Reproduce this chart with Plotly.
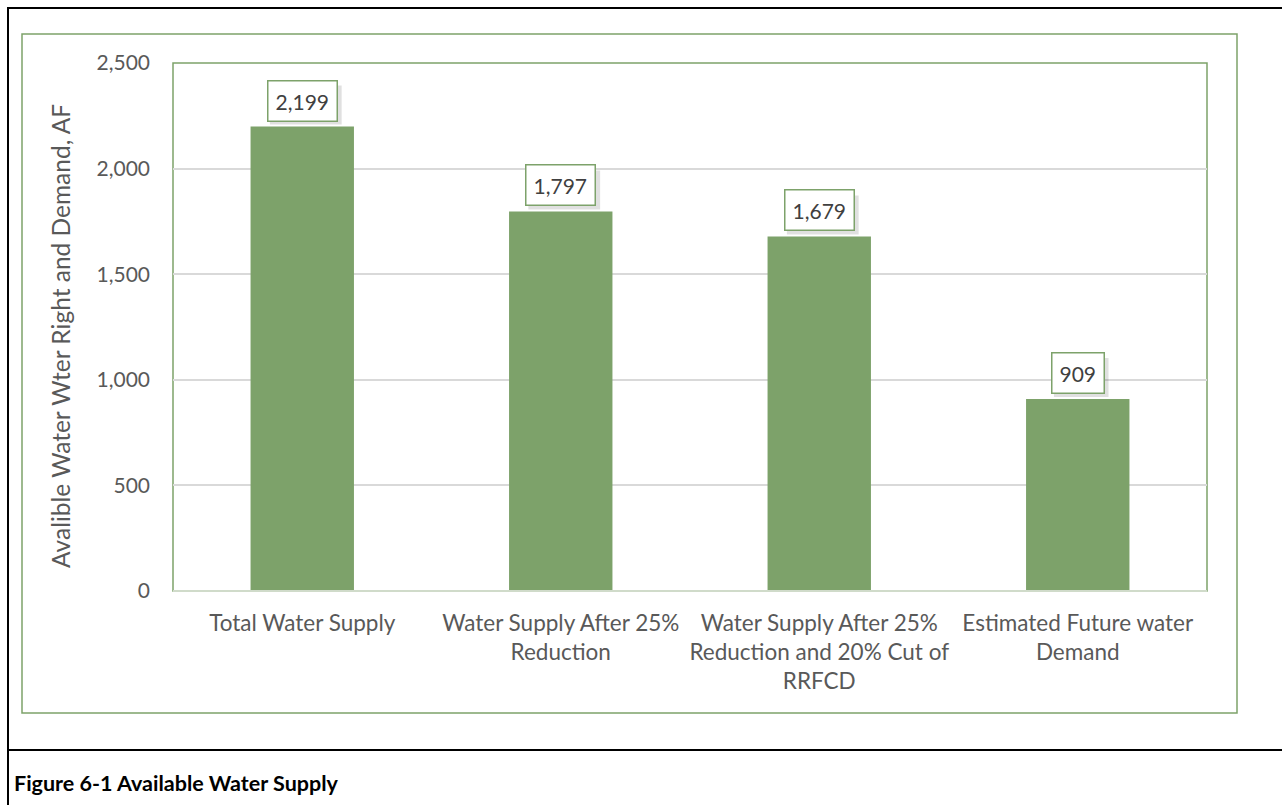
import plotly.graph_objects as go

categories = ["Total Water Supply", "Water Supply After 25%<br>Reduction",
              "Water Supply After 25%<br>Reduction and 20% Cut of<br>RRFCD",
              "Estimated Future water<br>Demand"]
values = [2199, 1797, 1679, 909]
label_text = ["2,199", "1,797", "1,679", "909"]
y_ticks = [0, 500, 1000, 1500, 2000, 2500]
y_tick_text = ["0", "500", "1,000", "1,500", "2,000", "2,500"]

W, H = 1282, 805
PL, PR, PT, PB = 173, 1207, 63, 591
FONT = "Lato"
GREEN = "#7da26a"
TXT = "#595959"

def px(x):
    return (x - PL) / (PR - PL)

def py(y):
    return (PB - y) / (PB - PT)

fig = go.Figure()
fig.add_trace(go.Bar(x=categories, y=values, marker_color=GREEN,
                     marker_line_width=0, width=0.4))

shapes = []
for i, (c, v, t) in enumerate(zip(categories, values, label_text)):
    half = (len(t.replace(",", "")) * 12.2 + (5 if "," in t else 0) + 17) / 2
    # soft shadow behind the label box
    shapes.append(dict(type="rect", xref="x", yref="y", xsizemode="pixel", ysizemode="pixel",
                       xanchor=i, yanchor=v, x0=-half + 3, x1=half + 4, y0=2, y1=41,
                       fillcolor="rgba(0,0,0,0.12)", line=dict(width=0), layer="above"))
    fig.add_annotation(x=c, y=v, text=t, showarrow=False, yanchor="bottom",
                       yshift=5, font=dict(family=FONT, size=21, color="#404040"),
                       bgcolor="white", bordercolor=GREEN, borderwidth=1.5,
                       borderpad=7)

# outer black frame
shapes.append(dict(type="line", xref="paper", yref="paper", x0=px(7), x1=px(1300),
                   y0=py(8), y1=py(8), line=dict(color="black", width=2)))
shapes.append(dict(type="line", xref="paper", yref="paper", x0=px(8), x1=px(8),
                   y0=py(7), y1=py(820), line=dict(color="black", width=2)))
shapes.append(dict(type="line", xref="paper", yref="paper", x0=px(7), x1=px(1300),
                   y0=py(750), y1=py(750), line=dict(color="black", width=2)))
# green chart frame
shapes.append(dict(type="rect", xref="paper", yref="paper", x0=px(22), x1=px(1237),
                   y0=py(34), y1=py(713), line=dict(color=GREEN, width=1.5)))
# plot area frame
shapes.append(dict(type="rect", xref="paper", yref="paper", x0=0, x1=1,
                   y0=0, y1=1, line=dict(color=GREEN, width=1.5), layer="below"))
shapes.append(dict(type="line", xref="paper", yref="paper", x0=0, x1=1,
                   y0=0, y1=0, line=dict(color="#d0dbca", width=2)))
fig.update_layout(shapes=shapes)

# y-axis title
fig.add_annotation(xref="paper", yref="paper", x=px(60), y=py(336),
                   text="Avalible Water Wter Right and Demand, AF", textangle=-90,
                   showarrow=False, xanchor="center", yanchor="middle",
                   font=dict(family=FONT, size=24.5, color=TXT))

fig.add_annotation(xref="paper", yref="paper", x=px(12), y=py(783),
                   text="<b>Figure 6-1 Available Water Supply</b>",
                   showarrow=False, xanchor="left", yanchor="middle",
                   font=dict(family=FONT, size=21.5, color="black"))

fig.update_layout(
    width=W, height=H,
    margin=dict(l=PL, r=W - PR, t=PT, b=H - PB, pad=0),
    paper_bgcolor="white", plot_bgcolor="white",
    showlegend=False,
    font=dict(family=FONT, color=TXT),
    bargap=0.6,
    xaxis=dict(tickfont=dict(size=22.5, color=TXT), showgrid=False, showline=False,
               ticks="", ticklabelstandoff=16),
    yaxis=dict(range=[0, 2500], tickvals=y_ticks, ticktext=y_tick_text,
               tickfont=dict(size=21, color=TXT), showgrid=True, gridcolor="#d9d9d9",
               gridwidth=1.5, zeroline=False, showline=False, ticks="",
               ticklabelstandoff=22),
)

fig.write_html("out.html")
